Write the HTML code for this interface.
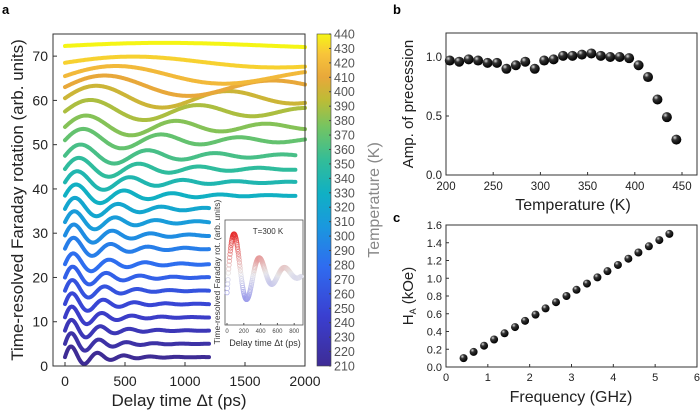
<!DOCTYPE html>
<html><head><meta charset="utf-8"><style>
html,body{margin:0;padding:0;background:#fff;}
svg{display:block;font-family:"Liberation Sans",Arial,sans-serif;}
</style></head><body>
<svg id="fig" width="700" height="411" viewBox="0 0 700 411" xmlns="http://www.w3.org/2000/svg">
<defs>
<linearGradient id="cbar" x1="0" y1="1" x2="0" y2="0">
<stop offset="0" stop-color="#3e2c95"/><stop offset="0.15" stop-color="#3a3fd0"/><stop offset="0.3" stop-color="#2f6cf0"/>
<stop offset="0.42" stop-color="#1a98de"/><stop offset="0.52" stop-color="#10b0c4"/><stop offset="0.62" stop-color="#33bd98"/>
<stop offset="0.72" stop-color="#74c462"/><stop offset="0.8" stop-color="#bcbc36"/><stop offset="0.87" stop-color="#e8a83a"/>
<stop offset="0.94" stop-color="#f8c43a"/><stop offset="1" stop-color="#f5f515"/>
</linearGradient>
<radialGradient id="ball" cx="0.35" cy="0.3" r="0.7"><stop offset="0" stop-color="#ddd"/><stop offset="0.35" stop-color="#333"/><stop offset="1" stop-color="#000"/></radialGradient>
</defs>
<g id="pa"></g>
<g id="pb"></g>
<g id="pc"></g>
</svg>
<script>
// ---- Panel a data ----
const temps = [210,220,230,240,250,260,270,280,290,300,310,320,330,340,350,360,370,380,390,400,410,420,430,440];
const bases = [2,5,8,11,14,17,20,23,26.5,29.5,32.5,35.5,38.5,41.5,44.5,47.5,51,54,57.5,60.5,63,65.5,68.5,72.3];
const periods = [220,230,240,250,260,270,280,300,310,320,340,360,400,440,500,560,650,750,900,1100,1400,1800,2400,3500];
const amps = [3,3,3,3,3,3,3,3,3,3,3,3,3,3,3,3,3,3,3,3.2,3,2.6,1.6,0.8];
const decays = [1.1,1.1,1.1,1.1,1.1,1.1,1.15,1.15,1.2,1.2,1.2,1.25,1.3,1.3,1.35,1.4,1.5,1.6,1.7,1.8,1.8,1.8,1.8,1.8];
const ends = [1200,1200,1200,1200,1200,1200,1200,1200,1200,1200,1200,1200,1920,1920,1920,1920,2000,2000,2000,2000,2000,2000,2000,2000];
const aXTicks = [0,500,1000,1500,2000];
const aYTicks = [0,10,20,30,40,50,60,70];
const cbTicks = [210,220,230,240,250,260,270,280,290,300,310,320,330,340,350,360,370,380,390,400,410,420,430,440];
const insetTicks = [0,200,400,600,800];
// ---- Panel b data ----
const bTemps = [204,214,224,234,244,254,264,274,284,294,304,314,324,334,344,354,364,374,384,394,404,414,424,434,444];
const bAmps = [0.97,0.96,0.98,0.97,0.95,0.95,0.90,0.93,0.96,0.90,0.97,0.98,1.01,1.01,1.02,1.03,1.01,1.00,1.00,0.99,0.93,0.83,0.64,0.49,0.30];
const bXTicks = [200,250,300,350,400,450];
const bYTicks = [0.0,0.5,1.0];
// ---- Panel c data ----
const cFreq = [0.42,0.66,0.91,1.15,1.40,1.65,1.89,2.14,2.38,2.63,2.88,3.12,3.37,3.62,3.86,4.11,4.36,4.60,4.85,5.10,5.34];
const cHA = [0.10,0.17,0.24,0.31,0.38,0.45,0.52,0.59,0.66,0.73,0.80,0.87,0.94,1.01,1.08,1.15,1.22,1.29,1.36,1.43,1.50];
const cXTicks = [0,1,2,3,4,5,6];
const cYTicks = [0.0,0.2,0.4,0.6,0.8,1.0,1.2,1.4,1.6];

const NS="http://www.w3.org/2000/svg";
function mk(parent,tag,attrs,text){const e=document.createElementNS(NS,tag);for(const k in attrs)e.setAttribute(k,attrs[k]);if(text!==undefined)e.textContent=text;parent.appendChild(e);return e;}

const stops=[[0,[62,44,149]],[0.15,[58,63,208]],[0.3,[47,108,240]],[0.42,[26,152,222]],[0.52,[16,176,196]],[0.62,[51,189,152]],[0.72,[116,196,98]],[0.8,[188,188,54]],[0.87,[232,168,58]],[0.94,[248,196,58]],[1,[245,245,21]]];
function cmap(f){for(let i=1;i<stops.length;i++){if(f<=stops[i][0]){const a=stops[i-1],b=stops[i];const u=(f-a[0])/(b[0]-a[0]);const c=a[1].map((v,j)=>Math.round(v+(b[1][j]-v)*u));return `rgb(${c})`;}}return 'rgb(245,245,21)';}

// Panel a
const pa=document.getElementById('pa');
const ax0=53,ax1=305,ay0=34,ay1=366;
const ax=t=>65+t*0.12, ay=v=>366-v*(332/75);
let l=mk(pa,'text',{x:2,y:14,'font-size':13,'font-weight':'bold'},'a');

temps.forEach((T,i)=>{
  let d='';
  const P=periods[i],A=amps[i],tau=decays[i]*P;
  for(let t=0;t<=ends[i];t+=5){const v=bases[i]+A*Math.exp(-t/tau)*Math.sin(2*Math.PI*t/P);d+=(t?'L':'M')+ax(t).toFixed(1)+','+ay(v).toFixed(1);}
  const p=mk(pa,'path',{d:d,fill:'none',stroke:cmap((T-210)/230),'stroke-width':4,'stroke-linecap':'round'});
  
  
});
let fr=mk(pa,'rect',{x:ax0,y:ay0,width:ax1-ax0,height:ay1-ay0,fill:'none',stroke:'#333','stroke-width':1});

aXTicks.forEach(v=>{mk(pa,'line',{x1:ax(v),x2:ax(v),y1:ay1,y2:ay1-4,stroke:'#333'});
  const t=mk(pa,'text',{x:ax(v),y:386,'font-size':14,'text-anchor':'middle',fill:'#222'},v);
  });
aYTicks.forEach(v=>{mk(pa,'line',{x1:ax0,x2:ax0+4,y1:ay(v),y2:ay(v),stroke:'#333'});
  const t=mk(pa,'text',{x:48,y:ay(v)+5,'font-size':14,'text-anchor':'end',fill:'#222'},v);
  });
l=mk(pa,'text',{x:179,y:406,'font-size':17,'text-anchor':'middle',fill:'#222'},'Delay time Δt (ps)');

l=mk(pa,'text',{x:0,y:0,'font-size':17,'text-anchor':'middle',fill:'#222',transform:'translate(23,200) rotate(-90)'},'Time-resolved Faraday rotation (arb. units)');

// inset
const ix0=225,ix1=303,iy0=220,iy1=325;
const ixs=t=>227+t*0.084;
let ib=mk(pa,'rect',{x:ix0,y:iy0,width:ix1-ix0,height:iy1-iy0,fill:'#fff',stroke:'#555','stroke-width':0.8});

for(let t=0;t<=880;t+=4){const s=Math.exp(-t/330)*Math.sin(2*Math.PI*(t-15)/300)+(t<15?-0.05:0);
  const y=274-s*52; const c=s>0?`rgb(${230},${Math.round(230-200*Math.min(1,s*1.2))},${Math.round(230-200*Math.min(1,s*1.2))})`:`rgb(${Math.round(230+150*s)},${Math.round(230+150*s)},235)`;
  const cc=mk(pa,'circle',{cx:ixs(t),cy:y,r:2.2,fill:'none',stroke:c,'stroke-width':0.8});
  }
insetTicks.forEach(v=>{mk(pa,'line',{x1:ixs(v),x2:ixs(v),y1:iy1,y2:iy1-2,stroke:'#555'});
  const t=mk(pa,'text',{x:ixs(v),y:333,'font-size':6,'text-anchor':'middle',fill:'#444'},v);
  });
l=mk(pa,'text',{x:265,y:346,'font-size':9,'text-anchor':'middle',fill:'#333'},'Delay time Δt (ps)');

l=mk(pa,'text',{x:0,y:0,'font-size':8.5,'text-anchor':'middle',fill:'#333',transform:'translate(220,272) rotate(-90)'},'Time-resolved Faraday rot. (arb. units)');

l=mk(pa,'text',{x:268,y:234,'font-size':8,'text-anchor':'middle',fill:'#333'},'T=300 K');

// colorbar
let cb=mk(pa,'rect',{x:317,y:34,width:14,height:332,fill:'url(#cbar)',stroke:'#444','stroke-width':0.6});

cbTicks.forEach(v=>{const y=366-(v-210)/230*332;mk(pa,'line',{x1:329,x2:331,y1:y,y2:y,stroke:'#444'});
  const t=mk(pa,'text',{x:334,y:y+4.5,'font-size':12.5,fill:'#555'},v);
  });
l=mk(pa,'text',{x:0,y:0,'font-size':16,'text-anchor':'middle',fill:'#888',transform:'translate(379,200) rotate(-90)'},'Temperature (K)');


// Panel b
const pb=document.getElementById('pb');
const bx=T=>446+(T-200)*0.944, by=v=>175-v*118;
l=mk(pb,'text',{x:393,y:14,'font-size':13,'font-weight':'bold'},'b');

fr=mk(pb,'rect',{x:446,y:33,width:251,height:142,fill:'none',stroke:'#333'});

bXTicks.forEach(v=>{mk(pb,'line',{x1:bx(v),x2:bx(v),y1:175,y2:172,stroke:'#333'});
  const t=mk(pb,'text',{x:bx(v),y:190,'font-size':11.5,'text-anchor':'middle',fill:'#222'},v);
  });
bYTicks.forEach(v=>{mk(pb,'line',{x1:446,x2:449,y1:by(v),y2:by(v),stroke:'#333'});
  const t=mk(pb,'text',{x:442,y:by(v)+4,'font-size':11.5,'text-anchor':'end',fill:'#222'},v.toFixed(1));
  });
bTemps.forEach((T,i)=>{const c=mk(pb,'circle',{cx:bx(T),cy:by(bAmps[i]),r:5,fill:'url(#ball)'});
  });
l=mk(pb,'text',{x:573,y:210,'font-size':16,'text-anchor':'middle',fill:'#222'},'Temperature (K)');

l=mk(pb,'text',{x:0,y:0,'font-size':15,'text-anchor':'middle',fill:'#222',transform:'translate(413,104) rotate(-90)'},'Amp. of precession');


// Panel c
const pc=document.getElementById('pc');
const cx=f=>446+f*41.83, cy=v=>367-v*88.75;
l=mk(pc,'text',{x:393,y:222,'font-size':13,'font-weight':'bold'},'c');

fr=mk(pc,'rect',{x:446,y:225,width:251,height:142,fill:'none',stroke:'#333'});

cXTicks.forEach(v=>{mk(pc,'line',{x1:cx(v),x2:cx(v),y1:367,y2:364,stroke:'#333'});
  const t=mk(pc,'text',{x:cx(v),y:381,'font-size':11,'text-anchor':'middle',fill:'#222'},v);
  });
cYTicks.forEach(v=>{mk(pc,'line',{x1:446,x2:449,y1:cy(v),y2:cy(v),stroke:'#333'});
  const t=mk(pc,'text',{x:442,y:cy(v)+4,'font-size':11,'text-anchor':'end',fill:'#222'},v.toFixed(1));
  });
cFreq.forEach((f,i)=>{const c=mk(pc,'circle',{cx:cx(f),cy:cy(cHA[i]),r:4,fill:'url(#ball)'});
  });
l=mk(pc,'text',{x:571,y:402,'font-size':16,'text-anchor':'middle',fill:'#222'},'Frequency (GHz)');

l=mk(pc,'text',{x:0,y:0,'font-size':15,'text-anchor':'middle',fill:'#222',transform:'translate(413,296) rotate(-90)'});

mk(l,'tspan',{},'H');mk(l,'tspan',{'font-size':9,dy:3},'A');mk(l,'tspan',{dy:-3},' (kOe)');
</script>
</body></html>
